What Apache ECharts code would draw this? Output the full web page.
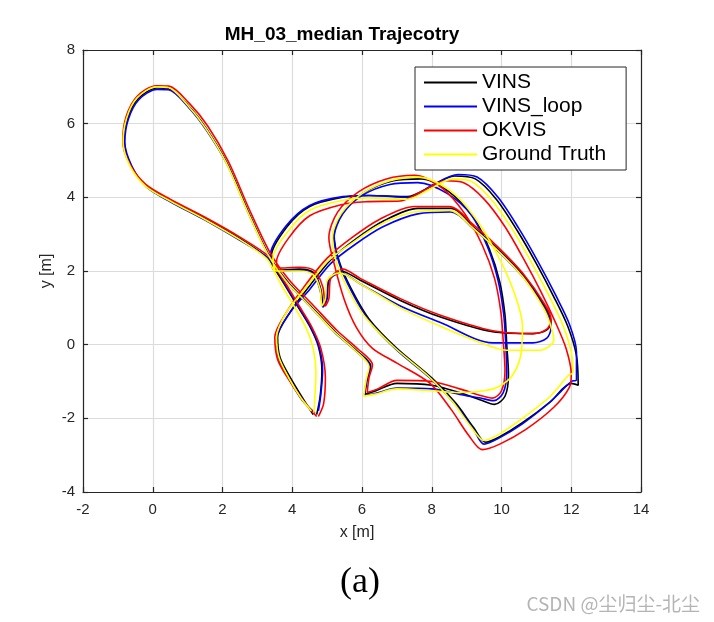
<!DOCTYPE html>
<html>
<head>
<meta charset="utf-8">
<script src="https://cdn.jsdelivr.net/npm/echarts@6/dist/echarts.min.js"></script>
<style>html,body{margin:0;padding:0;background:#fff;}#c{width:714px;height:622px;}</style>
</head>
<body>
<div id="c"></div>
<script>
const seriesNames = ['VINS', 'VINS_loop', 'OKVIS', 'Ground Truth'];
const xTicks = [-2, 0, 2, 4, 6, 8, 10, 12, 14];
const yTicks = [-4, -2, 0, 2, 4, 6, 8];

const vins = [
[4.7,-1.9],[4.8,-1.4],[4.85,-0.7],[4.75,-0.05],[4.5,0.5],[4.15,1.05],[3.8,1.6],[3.5,2.05],[3.3,2.35],
[2.5,2.88],[1.5,3.43],[0.5,3.93],[-0.2,4.32],[-0.63,4.87],[-0.82,5.5],[-0.72,6.15],[-0.42,6.68],[0.12,6.97],[0.45,6.95],[1.03,6.48],[1.53,5.88],[2.13,4.93],[2.73,3.63],[3.33,2.43],[3.85,1.73],[4.55,1.03],[5.25,0.33],[5.85,-0.17],[6.25,-0.58],
[6.15,-0.95],[6.08,-1.35],[6.4,-1.25],[7.0,-1.05],[8.0,-1.1],[8.8,-1.3],[9.4,-1.5],[9.8,-1.62],[10.1,-1.4],[10.2,-0.8],[10.15,0.0],[10.1,0.8],[9.95,1.7],[9.65,2.6],[9.2,3.45],[8.5,4.15],[7.7,4.5],[6.9,4.45],[6.1,4.15],[5.5,3.65],[5.2,3.0],
[5.35,2.25],[5.7,1.5],[6.2,0.7],[7.0,-0.1],[8.0,-0.9],[8.7,-1.6],[9.2,-2.25],[9.55,-2.65],
[9.95,-2.5],[10.6,-2.12],[11.4,-1.55],[12.0,-1.05],[12.2,-1.1],
[12.15,-0.3],[11.9,0.5],[11.5,1.3],[11.0,2.2],[10.45,3.1],[9.85,3.95],[9.25,4.5],[8.65,4.58],[7.95,4.28],[7.3,4.02],[6.2,4.05],[5.45,4.0],[4.5,3.75],[3.85,3.2],[3.4,2.4],
[3.55,2.02],[4.2,2.05],[4.62,1.95],[4.82,1.5],[4.9,1.05],[5.0,1.25],[5.05,1.75],[5.4,2.0],[5.95,1.75],[7.1,1.2],[8.25,0.75],[9.75,0.35],[10.9,0.3],[11.3,0.4],[11.42,0.62],[11.25,1.02],[10.65,1.85],[9.95,2.55],[9.25,3.15],[8.55,3.7],[7.6,3.7],[6.6,3.35],[5.8,2.85],[5.1,2.3],[4.5,1.6],[3.95,0.9],[3.58,0.2],[3.65,-0.35],[3.95,-0.9],[4.3,-1.45],[4.6,-1.9]
];

const vinsLoop = [
[4.75,-1.8],[4.82,-1.35],[4.87,-0.7],[4.77,-0.05],[4.52,0.5],[4.17,1.05],[3.82,1.6],[3.52,2.05],[3.32,2.35],
[2.5,2.83],[1.5,3.38],[0.5,3.88],[-0.18,4.28],[-0.6,4.85],[-0.8,5.5],[-0.7,6.12],[-0.4,6.65],[0.12,6.93],[0.45,6.92],[1.02,6.45],[1.52,5.85],[2.12,4.92],[2.72,3.62],[3.33,2.42],[3.83,1.72],[4.53,1.02],[5.23,0.32],[5.83,-0.18],[6.23,-0.6],
[6.13,-0.97],[6.07,-1.38],[6.4,-1.32],[7.0,-1.18],[8.0,-1.2],[8.8,-1.35],[9.4,-1.45],[9.78,-1.52],[10.05,-1.3],[10.15,-0.75],[10.12,0.05],[10.06,0.85],[9.9,1.75],[9.6,2.65],[9.15,3.5],[8.45,4.1],[7.6,4.4],[6.8,4.35],[6.0,4.05],[5.45,3.55],[5.2,2.9],
[5.35,2.2],[5.7,1.45],[6.2,0.65],[7.0,-0.15],[8.0,-0.95],[8.7,-1.65],[9.2,-2.3],[9.5,-2.7],
[9.9,-2.55],[10.6,-2.15],[11.4,-1.55],[12.0,-1.0],[12.15,-0.95],
[12.15,-0.2],[11.95,0.55],[11.55,1.35],[11.05,2.25],[10.5,3.15],[9.9,4.0],[9.3,4.55],[8.75,4.62],[8.05,4.35],[7.35,4.0],[6.2,4.05],[5.45,4.02],[4.5,3.78],[3.82,3.22],[3.37,2.42],
[3.52,2.0],[4.2,2.02],[4.6,1.92],[4.8,1.48],[4.88,1.02],[4.98,1.22],[5.03,1.72],[5.38,1.95],[5.95,1.65],[7.1,1.05],[8.25,0.6],[9.75,0.05],[10.9,0.05],[11.3,0.18],[11.42,0.45],[11.25,0.95],[10.65,1.8],[9.95,2.5],[9.25,3.1],[8.55,3.6],[7.6,3.55],[6.6,3.2],[5.8,2.72],[5.1,2.2],[4.5,1.5],[3.92,0.85],[3.55,0.15],[3.62,-0.4],[3.92,-0.95],[4.28,-1.5],[4.65,-1.85]
];

const okvis = [
[4.75,-1.95],[4.9,-1.6],[4.95,-0.9],[4.82,-0.1],[4.55,0.5],[4.2,1.05],[3.85,1.6],[3.55,2.05],[3.35,2.38],
[2.5,2.92],[1.5,3.46],[0.5,3.95],[-0.2,4.35],[-0.66,4.9],[-0.86,5.52],[-0.76,6.2],[-0.44,6.75],[0.1,7.03],[0.46,7.02],[1.05,6.55],[1.58,5.93],[2.17,4.97],[2.77,3.67],[3.38,2.47],[3.9,1.77],[4.6,1.07],[5.3,0.37],[5.9,-0.13],[6.3,-0.55],
[6.2,-0.9],[6.15,-1.3],[6.45,-1.2],[7.0,-0.97],[8.0,-1.0],[8.8,-1.2],[9.4,-1.38],[9.75,-1.45],[10.0,-1.25],[10.1,-0.7],[10.05,0.1],[9.98,0.9],[9.8,1.8],[9.45,2.7],[8.95,3.55],[8.3,4.25],[7.5,4.6],[6.7,4.5],[5.9,4.15],[5.3,3.6],[5.05,2.9],
[5.2,2.2],[5.5,1.2],[5.85,0.45],[6.3,-0.1],[7.0,-0.5],[7.95,-1.05],[8.55,-1.75],[9.05,-2.45],[9.45,-2.85],
[9.95,-2.7],[10.7,-2.3],[11.5,-1.7],[11.95,-1.15],[12.0,-0.8],
[11.85,-0.1],[11.55,0.6],[11.15,1.4],[10.65,2.3],[10.1,3.2],[9.5,3.95],[8.9,4.4],[8.4,4.45],[7.7,4.15],[7.1,3.9],[6.1,3.88],[5.4,3.8],[4.5,3.5],[3.9,2.9],[3.55,2.25],
[3.6,2.08],[4.2,2.1],[4.65,2.0],[4.88,1.55],[4.95,1.05],[5.05,1.25],[5.1,1.8],[5.45,2.05],[5.95,1.8],[7.1,1.25],[8.25,0.8],[9.75,0.38],[10.9,0.3],[11.3,0.42],[11.42,0.68],[11.25,1.08],[10.6,1.95],[9.9,2.65],[9.2,3.25],[8.5,3.75],[7.5,3.75],[6.5,3.4],[5.7,2.9],[5.0,2.35],[4.4,1.65],[3.85,0.9],[3.5,0.2],[3.58,-0.4],[3.9,-0.95],[4.3,-1.5],[4.7,-1.95]
];

const groundTruth = [
[4.62,-1.85],[4.65,-1.4],[4.68,-0.75],[4.6,-0.1],[4.4,0.45],[4.05,1.05],[3.7,1.6],[3.45,2.05],[3.25,2.35],
[2.5,2.85],[1.5,3.4],[0.5,3.9],[-0.2,4.3],[-0.65,4.85],[-0.85,5.5],[-0.75,6.15],[-0.45,6.7],[0.1,7.0],[0.45,6.98],[1.0,6.5],[1.5,5.9],[2.1,4.95],[2.7,3.65],[3.3,2.45],[3.8,1.75],[4.5,1.05],[5.2,0.35],[5.8,-0.15],[6.2,-0.6],
[6.12,-0.95],[6.05,-1.4],[6.35,-1.35],[7.0,-1.2],[8.0,-1.25],[8.8,-1.3],[9.5,-1.25],[9.9,-1.15],[10.3,-0.85],[10.55,-0.3],[10.6,0.5],[10.35,1.45],[9.85,2.5],[9.2,3.5],[8.5,4.2],[7.6,4.55],[6.8,4.45],[6.0,4.1],[5.4,3.55],[5.15,2.9],
[5.25,2.3],[5.55,1.6],[6.05,0.8],[6.9,-0.05],[7.9,-0.85],[8.6,-1.55],[9.1,-2.2],[9.5,-2.6],
[9.9,-2.45],[10.6,-2.0],[11.4,-1.4],[11.9,-0.85],[12.05,-0.75],
[12.0,-0.2],[11.75,0.55],[11.35,1.35],[10.85,2.25],[10.3,3.15],[9.7,3.95],[9.1,4.45],[8.6,4.5],[7.9,4.2],[7.3,3.95],[6.2,3.98],[5.45,3.92],[4.5,3.65],[3.9,3.1],[3.45,2.35],
[3.55,2.0],[4.2,2.0],[4.6,1.9],[4.8,1.5],[4.85,1.05],[4.95,1.25],[5.0,1.75],[5.35,1.95],[5.95,1.65],[7.1,1.0],[8.25,0.5],[9.2,0.13],[10.15,-0.15],[11.1,-0.15],[11.5,0.13],[11.4,0.55],[11.2,1.0],[10.6,1.85],[9.9,2.55],[9.2,3.15],[8.5,3.65],[7.5,3.6],[6.5,3.25],[5.7,2.75],[5.0,2.25],[4.4,1.55],[3.85,0.9],[3.55,0.2],[3.62,-0.35],[3.9,-0.9],[4.25,-1.45],[4.55,-1.8]
];

const colors = ['#000000', '#0000ff', '#ff0000', '#ffff00'];
const dataSets = [vins, vinsLoop, okvis, groundTruth];

const FONT = "'Liberation Sans', Arial, Helvetica, sans-serif";
const chart = echarts.init(document.getElementById('c'), null, {renderer: 'canvas'});

const axisCommon = {
  type: 'value',
  axisLine: {show: true, onZero: false, lineStyle: {color: '#262626', width: 1.2}},
  axisTick: {show: true, inside: true, length: 5, lineStyle: {color: '#262626', width: 1.2}},
};

const option = {
  animation: false,
  backgroundColor: '#ffffff',
  grid: {left: 83, top: 50, width: 558, height: 442, containLabel: false},
  xAxis: [
    Object.assign({}, axisCommon, {
      position: 'bottom', min: xTicks[0], max: xTicks[xTicks.length - 1], interval: 2,
      axisLabel: {fontFamily: FONT, fontSize: 15, color: '#262626', margin: 10},
      splitLine: {show: true, lineStyle: {color: '#dcdcdc', width: 1.2}}
    }),
    Object.assign({}, axisCommon, {
      position: 'top', min: xTicks[0], max: xTicks[xTicks.length - 1], interval: 2,
      axisLabel: {show: false}, splitLine: {show: false}
    })
  ],
  yAxis: [
    Object.assign({}, axisCommon, {
      position: 'left', min: yTicks[0], max: yTicks[yTicks.length - 1], interval: 2,
      axisLabel: {fontFamily: FONT, fontSize: 15, color: '#262626', margin: 8},
      splitLine: {show: true, lineStyle: {color: '#dcdcdc', width: 1.2}}
    }),
    Object.assign({}, axisCommon, {
      position: 'right', min: yTicks[0], max: yTicks[yTicks.length - 1], interval: 2,
      axisLabel: {show: false}, splitLine: {show: false}
    })
  ],
  legend: {
    orient: 'vertical', left: 415, top: 67,
    data: seriesNames,
    icon: 'rect', itemWidth: 53, itemHeight: 2, itemGap: 3,
    padding: [5, 20, 5, 9],
    borderColor: '#262626', borderWidth: 1, backgroundColor: '#ffffff',
    textStyle: {fontFamily: FONT, fontSize: 21, color: '#000', lineHeight: 21},
    selectedMode: false
  },
  graphic: [
    {type: 'text', x: 342, y: 35, style: {text: 'MH_03_median Trajecotry', font: "bold 19px " + FONT, fill: '#000', textAlign: 'center', textVerticalAlign: 'middle'}},
    {type: 'text', x: 357, y: 533, style: {text: 'x [m]', font: "16px " + FONT, fill: '#262626', textAlign: 'center', textVerticalAlign: 'middle'}},
    {type: 'text', x: 47, y: 271, rotation: Math.PI / 2, style: {text: 'y [m]', font: "16px " + FONT, fill: '#262626', textAlign: 'center', textVerticalAlign: 'middle'}},
    {type: 'text', x: 360, y: 583, style: {text: '(a)', font: "36px 'Liberation Serif', 'Times New Roman', serif", fill: '#000', textAlign: 'center', textVerticalAlign: 'middle'}},
    {type: 'text', x: 700, y: 604, style: {text: 'CSDN @尘归尘-北尘', font: "19px 'Noto Sans CJK SC', sans-serif", fill: '#b4b4b4', textAlign: 'right', textVerticalAlign: 'middle'}}
  ],
  series: seriesNames.map((name, i) => ({
    name: name,
    type: 'line',
    xAxisIndex: 0, yAxisIndex: 0,
    data: dataSets[i],
    showSymbol: false,
    symbol: 'none',
    smooth: 0.3,
    color: colors[i],
    lineStyle: {color: colors[i], width: 1.6},
    z: 2 + i
  }))
};
chart.setOption(option);
</script>
</body>
</html>
